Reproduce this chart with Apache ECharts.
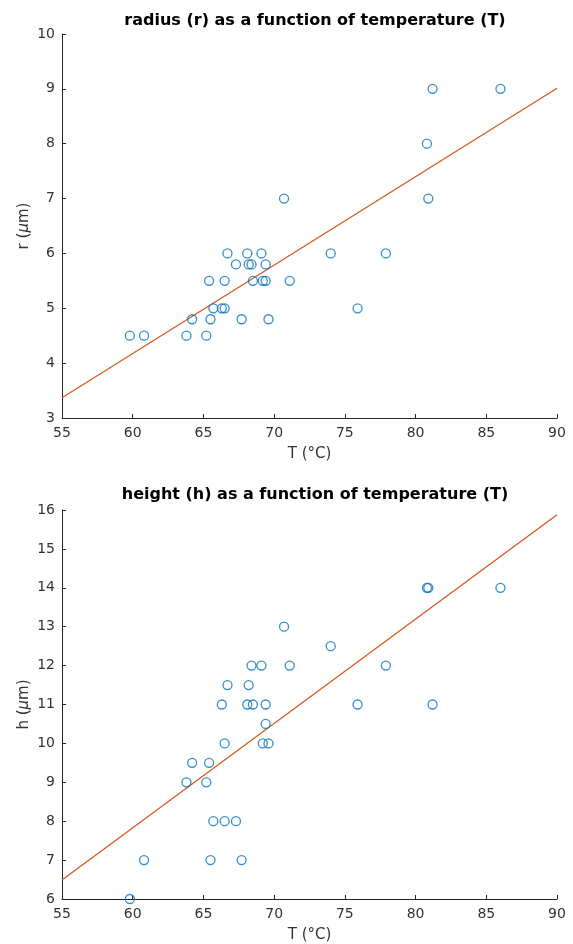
<!DOCTYPE html>
<html>
<head>
<meta charset="utf-8">
<script src="https://cdn.jsdelivr.net/npm/echarts@6/dist/echarts.min.js"></script>
<style>
  html, body { margin: 0; padding: 0; background: #fff; }
  #chart { width: 573px; height: 944px; }
</style>
</head>
<body>
<div id="chart"></div>
<script>
// temperature (T, °C) of each sample, same for both plots
var temps = [59.8, 60.8, 63.8, 64.2, 65.2, 65.4, 65.5, 65.7, 66.3, 66.5, 66.5, 66.7,
             67.3, 67.7, 68.1, 68.2, 68.4, 68.5, 69.1, 69.2, 69.4, 69.4, 69.6, 70.7,
             71.1, 74.0, 75.9, 77.9, 80.8, 80.9, 81.2, 86.0];
// radius r (um)
var radius = [4.5, 4.5, 4.5, 4.8, 4.5, 5.5, 4.8, 5.0, 5.0, 5.0, 5.5, 6.0,
              5.8, 4.8, 6.0, 5.8, 5.8, 5.5, 6.0, 5.5, 5.8, 5.5, 4.8, 7.0,
              5.5, 6.0, 5.0, 6.0, 8.0, 7.0, 9.0, 9.0];
// height h (um)
var height = [6, 7, 9, 9.5, 9, 9.5, 7, 8, 11, 10, 8, 11.5,
              8, 7, 11, 11.5, 12, 11, 12, 10, 11, 10.5, 10, 13,
              12, 12.5, 11, 12, 14, 14, 11, 14];
// fitted lines, read at the ends of the x range
var fitR = [[55, 3.37], [90, 9.01]];
var fitH = [[55, 6.49], [90, 15.88]];

var font = 'DejaVu Sans';
var ink = '#262626';
var labelInk = '#333';
var blue = '#0072BD';
var orange = '#D95319';

function pairs(xs, ys) {
    var out = [];
    for (var i = 0; i < xs.length; i++) out.push([xs[i], ys[i]]);
    return out;
}

function xAxisFor(idx) {
    return {
        gridIndex: idx, type: 'value', min: 55, max: 90, interval: 5,
        name: 'T (°C)', nameLocation: 'middle', nameGap: 29, nameMoveOverlap: false,
        nameTextStyle: { fontFamily: font, fontSize: 15, color: labelInk },
        axisLine: { show: true, onZero: false, lineStyle: { color: ink, width: 1 } },
        axisTick: { show: true, inside: true, length: 4, lineStyle: { color: ink } },
        axisLabel: { fontFamily: font, fontSize: 14, color: labelInk, margin: 8 },
        splitLine: { show: false }
    };
}

function yAxisFor(idx, min, max, letter) {
    return {
        gridIndex: idx, type: 'value', min: min, max: max, interval: 1,
        name: '{n|' + letter + ' (}{mu|μ}{n|m)}', nameLocation: 'middle', nameGap: 30,
        nameMoveOverlap: false,
        nameTextStyle: {
            rich: {
                n: { fontFamily: font, fontSize: 15, color: labelInk },
                mu: { fontFamily: font, fontSize: 15, color: labelInk, fontStyle: 'italic' }
            }
        },
        axisLine: { show: true, onZero: false, lineStyle: { color: ink, width: 1 } },
        axisTick: { show: true, inside: true, length: 4, lineStyle: { color: ink } },
        axisLabel: { fontFamily: font, fontSize: 14, color: labelInk, margin: 7 },
        splitLine: { show: false }
    };
}

function dots(idx, data) {
    return {
        type: 'scatter', xAxisIndex: idx, yAxisIndex: idx, data: data,
        symbol: 'circle', symbolSize: 9,
        itemStyle: { color: 'rgba(0,0,0,0)', borderColor: blue, borderWidth: 1.3 },
        emphasis: { disabled: true }, z: 3
    };
}

function fit(idx, data) {
    return {
        type: 'line', xAxisIndex: idx, yAxisIndex: idx, data: data,
        showSymbol: false, lineStyle: { color: orange, width: 1.2 }, z: 2
    };
}

var chart = echarts.init(document.getElementById('chart'), null, { renderer: 'canvas' });
chart.setOption({
    animation: false,
    backgroundColor: '#fff',
    title: [
        { text: 'radius (r) as a function of temperature (T)', left: 310, top: 8, textAlign: 'center',
          textStyle: { fontFamily: font, fontSize: 16, fontWeight: 'bold', color: '#000' } },
        { text: 'height (h) as a function of temperature (T)', left: 310, top: 482, textAlign: 'center',
          textStyle: { fontFamily: font, fontSize: 16, fontWeight: 'bold', color: '#000' } }
    ],
    grid: [
        { left: 62, right: 16, top: 34, height: 384 },
        { left: 62, right: 16, top: 510, height: 389 }
    ],
    xAxis: [xAxisFor(0), xAxisFor(1)],
    yAxis: [yAxisFor(0, 3, 10, 'r'), yAxisFor(1, 6, 16, 'h')],
    series: [
        fit(0, fitR), dots(0, pairs(temps, radius)),
        fit(1, fitH), dots(1, pairs(temps, height))
    ]
});
</script>
</body>
</html>
